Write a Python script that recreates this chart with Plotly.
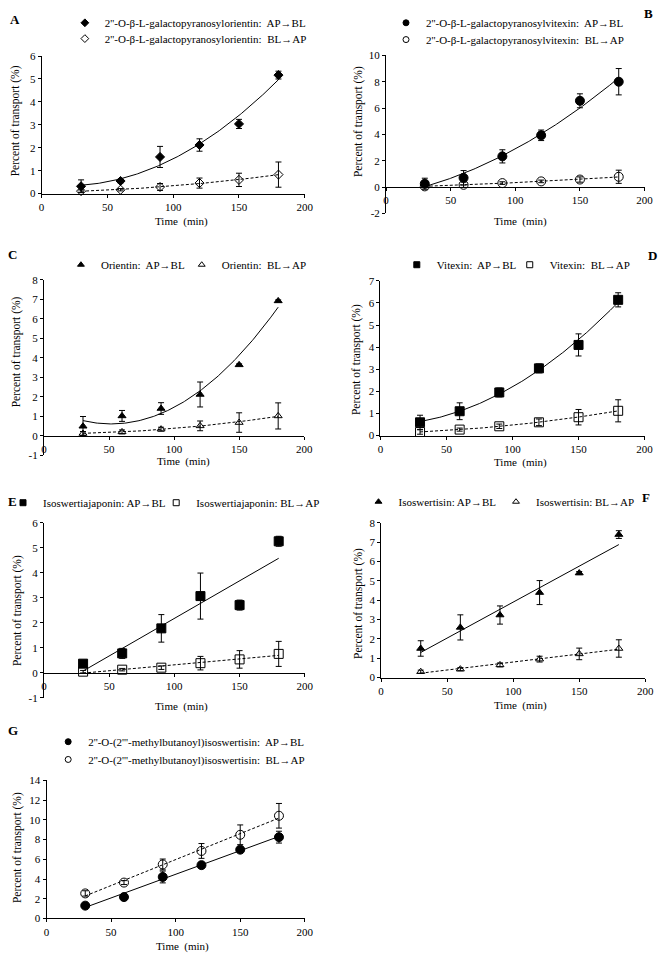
import numpy as np
import plotly.graph_objects as go

W, H = 669, 960
FONT = "Liberation Serif, Times New Roman, serif"

time_min = [30, 60, 90, 120, 150, 180]
x_ticks = [0, 50, 100, 150, 200]

# ---- data (mean % transported, +/- SD) ----
A_names = ["2''-O-β-L-galactopyranosylorientin:  AP→BL", "2''-O-β-L-galactopyranosylorientin:  BL→AP"]
A_ap = [0.32, 0.55, 1.60, 2.12, 3.04, 5.17]
A_ap_sd = [0.28, 0.08, 0.46, 0.27, 0.20, 0.17]
A_bl = [0.11, 0.17, 0.29, 0.46, 0.60, 0.83]
A_bl_sd = [0.05, 0.05, 0.15, 0.22, 0.29, 0.55]

B_names = ["2''-O-β-L-galactopyranosylvitexin:  AP→BL", "2''-O-β-L-galactopyranosylvitexin:  BL→AP"]
B_ap = [0.25, 0.70, 2.33, 3.93, 6.55, 8.00]
B_ap_sd = [0.42, 0.55, 0.50, 0.40, 0.53, 1.00]
B_bl = [0.05, 0.17, 0.30, 0.43, 0.57, 0.78]
B_bl_sd = [0.10, 0.20, 0.10, 0.10, 0.20, 0.50]

C_names = ["Orientin:  AP→BL", "Orientin:  BL→AP"]
C_ap = [0.49, 1.02, 1.40, 2.12, 3.64, 6.92]
C_ap_sd = [0.50, 0.28, 0.30, 0.64, 0.05, 0.05]
C_bl = [0.12, 0.20, 0.34, 0.51, 0.68, 1.02]
C_bl_sd = [0.10, 0.10, 0.10, 0.25, 0.50, 0.67]

D_names = ["Vitexin:  AP→BL", "Vitexin:  BL→AP"]
D_ap = [0.60, 1.10, 1.95, 3.04, 4.10, 6.14]
D_ap_sd = [0.32, 0.38, 0.20, 0.20, 0.50, 0.32]
D_bl = [0.16, 0.27, 0.42, 0.60, 0.83, 1.12]
D_bl_sd = [0.10, 0.07, 0.10, 0.15, 0.35, 0.50]

E_names = ["Isoswertiajaponin: AP→BL", "Isoswertiajaponin: BL→AP"]
E_ap = [0.37, 0.78, 1.78, 3.07, 2.71, 5.26]
E_ap_sd = [0.05, 0.20, 0.55, 0.92, 0.20, 0.20]
E_bl = [0.05, 0.13, 0.21, 0.39, 0.54, 0.76]
E_bl_sd = [0.05, 0.05, 0.07, 0.27, 0.35, 0.50]

F_names = ["Isoswertisin: AP→BL", "Isoswertisin: BL→AP"]
F_ap = [1.50, 2.59, 3.23, 4.39, 5.40, 7.39]
F_ap_sd = [0.40, 0.65, 0.47, 0.62, 0.08, 0.20]
F_bl = [0.30, 0.43, 0.65, 0.95, 1.22, 1.50]
F_bl_sd = [0.08, 0.08, 0.10, 0.15, 0.30, 0.45]

G_names = ["2''-O-(2'''-methylbutanoyl)isoswertisin:  AP→BL", "2''-O-(2'''-methylbutanoyl)isoswertisin:  BL→AP"]
G_ap = [1.30, 2.17, 4.21, 5.41, 6.98, 8.25]
G_ap_sd = [0.15, 0.10, 0.60, 0.30, 0.10, 0.60]
G_bl = [2.54, 3.64, 5.48, 6.85, 8.49, 10.42]
G_bl_sd = [0.27, 0.20, 0.55, 0.75, 1.00, 1.25]

A_yticks = [0, 1, 2, 3, 4, 5, 6]
B_yticks = [-2, 0, 2, 4, 6, 8, 10]
C_yticks = [-1, 0, 1, 2, 3, 4, 5, 6, 7, 8]
D_yticks = [0, 1, 2, 3, 4, 5, 6, 7]
E_yticks = [-1, 0, 1, 2, 3, 4, 5, 6]
F_yticks = [0, 1, 2, 3, 4, 5, 6, 7, 8]
G_yticks = [0, 2, 4, 6, 8, 10, 12, 14]

# ---- layout of panels (pixels); leg = legend text start (x) and row centre (y) ----
panels = [
    dict(label="A", names=A_names, ap=A_ap, ap_sd=A_ap_sd, bl=A_bl, bl_sd=A_bl_sd, yt=A_yticks,
         sym=("diamond", "diamond-open"), size=7, deg=2, box=(39.3, 307.3, 50.7, 190.0),
         lab=(12, 14), xt=(182, 218), yti=(13, 116),
         leg=[(103, 17), (103, 33)]),
    dict(label="B", names=B_names, ap=B_ap, ap_sd=B_ap_sd, bl=B_bl, bl_sd=B_bl_sd, yt=B_yticks,
         sym=("circle", "circle-open"), size=9, deg=2, box=(390.0, 653.3, 50.0, 210.0),
         lab=(657, 8), xt=(527, 218), yti=(362, 117),
         leg=[(430, 17), (430, 34)]),
    dict(label="C", names=C_names, ap=C_ap, ap_sd=C_ap_sd, bl=C_bl, bl_sd=C_bl_sd, yt=C_yticks,
         sym=("triangle-up", "triangle-up-open"), size=7, deg=2, box=(41.7, 306.7, 277.3, 455.0),
         lab=(10, 252), xt=(184, 461), yti=(14, 350),
         leg=[(99, 262), (222, 262)]),
    dict(label="D", names=D_names, ap=D_ap, ap_sd=D_ap_sd, bl=D_bl, bl_sd=D_bl_sd, yt=D_yticks,
         sym=("square", "square-open"), size=9, deg=2, box=(384.3, 653.3, 278.3, 435.0),
         lab=(661, 253), xt=(527, 462), yti=(360, 358),
         leg=[(441, 262), (556, 262)]),
    dict(label="E", names=E_names, ap=E_ap, ap_sd=E_ap_sd, bl=E_bl, bl_sd=E_bl_sd, yt=E_yticks,
         sym=("square", "square-open"), size=9, deg=1, box=(41.7, 307.3, 523.3, 700.7),
         lab=(10, 502), xt=(182, 709), yti=(15, 612),
         leg=[(40, 503), (196, 503)]),
    dict(label="F", names=F_names, ap=F_ap, ap_sd=F_ap_sd, bl=F_bl, bl_sd=F_bl_sd, yt=F_yticks,
         sym=("triangle-up", "triangle-up-open"), size=7, deg=1, box=(385.0, 654.0, 523.3, 680.0),
         lab=(655, 498), xt=(527, 708), yti=(362, 605),
         leg=[(402, 502), (542, 502)]),
    dict(label="G", names=G_names, ap=G_ap, ap_sd=G_ap_sd, bl=G_bl, bl_sd=G_bl_sd, yt=G_yticks,
         sym=("circle", "circle-open"), size=9, deg=1, box=(44.3, 307.3, 784.3, 924.0),
         lab=(10, 734), xt=(183, 952), yti=(15, 852),
         leg=[(86, 745), (86, 763)]),
]

fig = go.Figure()
layout = {}
annotations = []
legend_count = 0
fit_x = np.linspace(30, 180, 151)

tickfont = dict(family=FONT, size=11, color="black")

for i, p in enumerate(panels, start=1):
    xa = "x" if i == 1 else f"x{i}"
    ya = "y" if i == 1 else f"y{i}"
    l, r, t, b = p["box"]
    ymin, ymax = p["yt"][0], p["yt"][-1]
    y0, y1 = 1 - b / H, 1 - t / H

    series = [
        (p["ap"], p["ap_sd"], p["names"][0], p["sym"][0], "solid"),
        (p["bl"], p["bl_sd"], p["names"][1], p["sym"][1], "3px,2px"),
    ]
    for j, (vals, sd, name, sym, dash) in enumerate(series):
        legend_count += 1
        lid = "legend" if legend_count == 1 else f"legend{legend_count}"
        # Excel-style trendline fitted to the data
        coef = np.polyfit(time_min, vals, p["deg"])
        fig.add_trace(go.Scatter(
            x=fit_x, y=np.polyval(coef, fit_x), mode="lines",
            line=dict(color="black", width=1, dash=dash),
            showlegend=False, hoverinfo="skip", xaxis=xa, yaxis=ya))
        # measured means with SD error bars
        fig.add_trace(go.Scatter(
            x=time_min, y=vals, mode="markers", name=name, legendgroup=lid,
            marker=dict(symbol=sym, size=p["size"], color="black", line=dict(color="black", width=1)),
            error_y=dict(type="data", array=sd, visible=True, color="black", thickness=1, width=3),
            cliponaxis=False, showlegend=False, xaxis=xa, yaxis=ya))
        # legend entry (small symbol, as in the original legend)
        fig.add_trace(go.Scatter(
            x=[None], y=[None], mode="markers", name=name, legendgroup=lid,
            marker=dict(symbol=sym, size=6, color="black", line=dict(color="black", width=1)),
            xaxis=xa, yaxis=ya, legend=lid, hoverinfo="skip"))
        tx, cy = p["leg"][j]
        layout[lid] = dict(
            x=(tx - 40) / W, y=1 - cy / H, xanchor="left", yanchor="middle",
            bgcolor="rgba(0,0,0,0)", borderwidth=0,
            font=dict(family=FONT, size=11, color="black"),
            itemclick=False, itemdoubleclick=False)

    xkey = "xaxis" if i == 1 else f"xaxis{i}"
    ykey = "yaxis" if i == 1 else f"yaxis{i}"
    xdef = dict(domain=[l / W, r / W], range=[0, 200], tickmode="array",
                tickvals=x_ticks, ticktext=[str(v) for v in x_ticks],
                showline=True, linecolor="black", linewidth=1, ticks="outside",
                ticklen=3, tickcolor="black", showgrid=False, zeroline=False,
                tickfont=tickfont, anchor=ya, fixedrange=True)
    if ymin < 0:
        # x axis crosses at y = 0, as in the original
        xdef["anchor"] = "free"
        xdef["position"] = y0 + (0 - ymin) / (ymax - ymin) * (y1 - y0)
    layout[xkey] = xdef
    layout[ykey] = dict(domain=[y0, y1], range=[ymin, ymax], tickmode="array",
                        tickvals=p["yt"], ticktext=[str(v) for v in p["yt"]],
                        showline=True, linecolor="black", linewidth=1, ticks="outside",
                        ticklen=3, tickcolor="black", showgrid=False, zeroline=False,
                        tickfont=tickfont, anchor=xa, fixedrange=True)

    annotations.append(dict(text="<b>%s</b>" % p["label"], x=p["lab"][0] / W, y=1 - p["lab"][1] / H,
                            xref="paper", yref="paper", showarrow=False,
                            font=dict(family=FONT, size=13, color="black"),
                            xanchor="center", yanchor="middle"))
    annotations.append(dict(text="Time  (min)", x=p["xt"][0] / W, y=1 - p["xt"][1] / H,
                            xref="paper", yref="paper", showarrow=False,
                            font=dict(family=FONT, size=11, color="black"),
                            xanchor="center", yanchor="middle"))
    annotations.append(dict(text="Percent of transport (%)", x=p["yti"][0] / W, y=1 - p["yti"][1] / H,
                            xref="paper", yref="paper", showarrow=False, textangle=-90,
                            font=dict(family=FONT, size=11.5, color="black"),
                            xanchor="center", yanchor="middle"))

fig.update_layout(
    width=W, height=H,
    margin=dict(l=0, r=0, t=0, b=0),
    paper_bgcolor="white", plot_bgcolor="white",
    font=dict(family=FONT, size=11, color="black"),
    annotations=annotations,
    hovermode=False,
    **layout,
)

# remove the browser's default 8px page margin so the figure fills the window exactly
fig.write_html("out.html", config={"displayModeBar": False},
               post_script="document.body.style.margin='0px';")
